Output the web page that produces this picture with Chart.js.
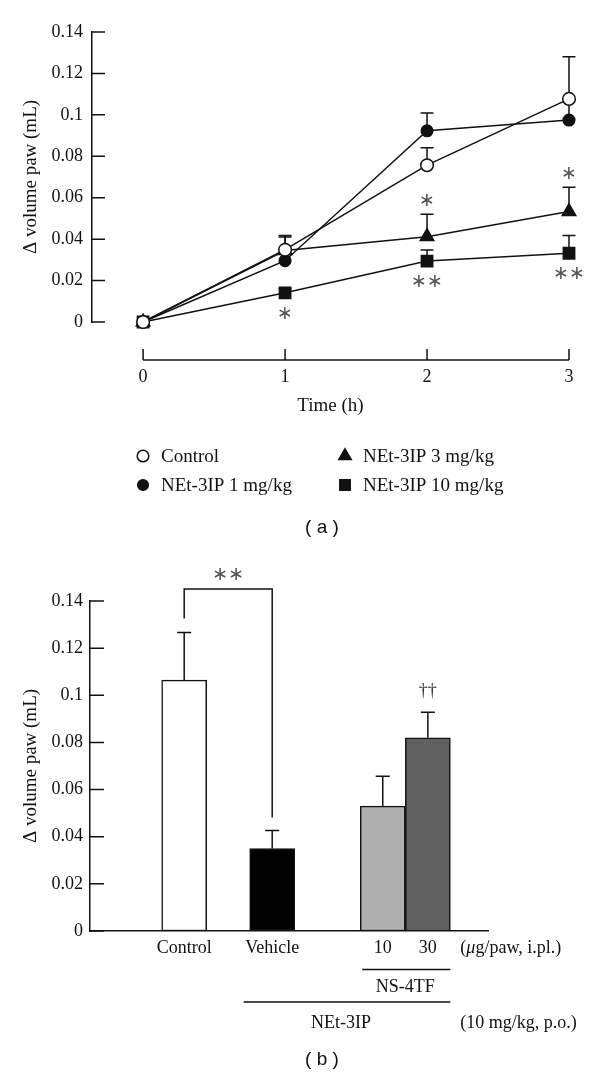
<!DOCTYPE html>
<html>
<head>
<meta charset="utf-8">
<title>Paw volume</title>
<script src="https://cdn.jsdelivr.net/npm/chart.js@4.4.0/dist/chart.umd.min.js"></script>
<style>
  body { margin: 0; background: #fff; }
  canvas { display: block; }
</style>
</head>
<body>
<canvas id="timeCourse" width="600" height="550"></canvas>
<canvas id="antagonist" width="600" height="534"></canvas>
<script>
// (a) time course
const times = [0, 1, 2, 3];
const volumeTicks = [0, 0.02, 0.04, 0.06, 0.08, 0.1, 0.12, 0.14];
const controlMean = [0, 0.0349, 0.0757, 0.1077];
const controlErr  = [0, 0.0069, 0.0084, 0.0204];
const net1Mean = [0, 0.0296, 0.0923, 0.0975];
const net1Err  = [0, 0.0052, 0.0086, 0.0102];
const net3Mean = [0, 0.0345, 0.0412, 0.0533];
const net3Err  = [0, 0.0065, 0.0108, 0.0117];
const net10Mean = [0, 0.0141, 0.0294, 0.0332];
const net10Err  = [0, 0.002, 0.0054, 0.0085];
const net3Marks  = ['', '', '*', '*'];
const net10Marks = ['', '*', '**', '**'];

// (b) NS-4TF against NEt-3IP
const groupLabels = ['Control', 'Vehicle', '10', '30'];
const barMeans = [0.1064, 0.0350, 0.0530, 0.0820];
const barErrs  = [0.0202, 0.0076, 0.0126, 0.0108];
const barMarks = ['', '', '', '††'];

const INK = '#111';
const SERIF = '"Liberation Serif", "DejaVu Serif", serif';
Chart.defaults.font.family = SERIF;
Chart.defaults.color = INK;

// where the bars sit on the (hidden) x axis of panel b
const barSlots = [2.13, 4.12, 6.62, 7.64];

function starText(s) {
  return s.replace(/\*/g, '\u2217');
}

function drawStars(ctx, text, x, y) {
  ctx.save();
  ctx.font = '19px "DejaVu Sans"';
  ctx.fillStyle = '#555';
  ctx.textAlign = 'center';
  ctx.textBaseline = 'middle';
  ctx.fillText(starText(text), x, y);
  ctx.restore();
}

function drawErrorBars(chart, capHalf) {
  const ctx = chart.ctx;
  const ys = chart.scales.y;
  ctx.save();
  ctx.strokeStyle = INK;
  ctx.lineWidth = 1.5;
  chart.data.datasets.forEach((ds, i) => {
    const meta = chart.getDatasetMeta(i);
    ds.errors.forEach((e, j) => {
      if (!e) return;
      const el = meta.data[j];
      const top = ys.getPixelForValue(ds.data[j].y + e);
      ctx.beginPath();
      ctx.moveTo(el.x, el.y);
      ctx.lineTo(el.x, top);
      ctx.moveTo(el.x - capHalf, top);
      ctx.lineTo(el.x + capHalf, top);
      ctx.stroke();
    });
  });
  ctx.restore();
}

function drawInnerTicks(chart, len) {
  const ctx = chart.ctx;
  const ys = chart.scales.y;
  const left = chart.chartArea.left;
  ctx.save();
  ctx.strokeStyle = INK;
  ctx.lineWidth = 1.5;
  ctx.beginPath();
  ys.ticks.forEach(t => {
    const py = ys.getPixelForValue(t.value);
    ctx.moveTo(left, py);
    ctx.lineTo(left + len, py);
  });
  ctx.stroke();
  ctx.restore();
}

function caption(ctx, text, x, y) {
  ctx.save();
  ctx.font = '19px "Liberation Sans", Arial, sans-serif';
  ctx.fillStyle = INK;
  ctx.textAlign = 'center';
  ctx.textBaseline = 'middle';
  ctx.fillText(text, x, y);
  ctx.restore();
}

function lineSet(label, means, errs, marks, style) {
  return Object.assign({
    label: label,
    errors: errs,
    marks: marks,
    data: times.map((t, i) => ({ x: t, y: means[i] })),
    borderColor: INK,
    borderWidth: 1.5,
    pointBorderColor: INK,
    pointBorderWidth: 1.5,
    tension: 0,
    clip: false
  }, style);
}

const timePlugin = {
  id: 'timeExtras',
  beforeDatasetsDraw(chart) {
    drawErrorBars(chart, 6.5);
  },
  afterDraw(chart) {
    const ctx = chart.ctx;
    const xs = chart.scales.x;
    const ys = chart.scales.y;
    const area = chart.chartArea;
    drawInnerTicks(chart, 13);

    // detached time axis
    const axisY = area.bottom + 38;
    ctx.save();
    ctx.strokeStyle = INK;
    ctx.lineWidth = 1.5;
    ctx.beginPath();
    ctx.moveTo(xs.getPixelForValue(times[0]), axisY);
    ctx.lineTo(xs.getPixelForValue(times[times.length - 1]), axisY);
    times.forEach(t => {
      const px = xs.getPixelForValue(t);
      ctx.moveTo(px, axisY);
      ctx.lineTo(px, axisY - 11);
    });
    ctx.stroke();
    ctx.restore();

    // significance marks
    const ds3 = chart.data.datasets[2];
    const meta3 = chart.getDatasetMeta(2);
    ds3.marks.forEach((m, j) => {
      if (!m) return;
      const top = ys.getPixelForValue(ds3.data[j].y + ds3.errors[j]);
      drawStars(ctx, m, meta3.data[j].x, top - 13);
    });
    const ds10 = chart.data.datasets[3];
    const meta10 = chart.getDatasetMeta(3);
    ds10.marks.forEach((m, j) => {
      if (!m) return;
      drawStars(ctx, m, meta10.data[j].x, meta10.data[j].y + 21);
    });

    // legend in two columns
    const rowY = [456, 485];
    const colX = [143, 345];
    chart.data.datasets.forEach((ds, i) => {
      const x = colX[Math.floor(i / 2)];
      const y = rowY[i % 2];
      ctx.save();
      ctx.fillStyle = ds.pointBackgroundColor;
      ctx.strokeStyle = INK;
      ctx.lineWidth = 1.5;
      Chart.helpers.drawPoint(ctx, {
        pointStyle: ds.pointStyle,
        radius: ds.pointRadius * 0.92,
        rotation: 0,
        borderWidth: 1.5
      }, x, y);
      ctx.font = '19px ' + SERIF;
      ctx.fillStyle = INK;
      ctx.textAlign = 'left';
      ctx.textBaseline = 'middle';
      ctx.fillText(ds.label, x + 18, y + 1);
      ctx.restore();
    });

    caption(ctx, '( a )', 322, 528);
  }
};

new Chart(document.getElementById('timeCourse'), {
  type: 'line',
  data: {
    datasets: [
      lineSet('Control', controlMean, controlErr, null,
        { pointStyle: 'circle', pointRadius: 6.3, pointBackgroundColor: '#fff' }),
      lineSet('NEt-3IP 1 mg/kg', net1Mean, net1Err, null,
        { pointStyle: 'circle', pointRadius: 5.8, pointBackgroundColor: INK }),
      lineSet('NEt-3IP 3 mg/kg', net3Mean, net3Err, net3Marks,
        { pointStyle: 'triangle', pointRadius: 7.8, pointBackgroundColor: INK }),
      lineSet('NEt-3IP 10 mg/kg', net10Mean, net10Err, net10Marks,
        { pointStyle: 'rect', pointRadius: 8, pointBackgroundColor: INK })
    ]
  },
  options: {
    responsive: false,
    animation: false,
    layout: { padding: { left: 16, right: 31, top: 32, bottom: 129 } },
    plugins: { legend: { display: false }, tooltip: { enabled: false } },
    scales: {
      x: {
        type: 'linear',
        min: -0.36,
        max: 3,
        afterBuildTicks: s => { s.ticks = times.map(v => ({ value: v })); },
        afterFit: s => { s.height = 99; },
        // hidden grid, but its tick length pushes the labels down below the drawn axis
        grid: { display: false, drawTicks: true, tickLength: 44 },
        border: { display: false },
        ticks: { padding: 0, color: INK, font: { size: 18 }, callback: v => String(v) },
        title: { display: true, text: 'Time (h)', color: INK, font: { size: 19 }, padding: { top: 0, bottom: 4 } }
      },
      y: {
        min: 0,
        max: 0.14,
        afterBuildTicks: s => { s.ticks = volumeTicks.map(v => ({ value: v })); },
        afterFit: s => { s.width = 76; },
        grid: { display: false, drawTicks: false },
        border: { display: true, color: INK, width: 1.5 },
        ticks: { padding: 9, color: INK, font: { size: 18 }, callback: v => String(v) },
        title: { display: true, text: '\u0394 volume paw (mL)', color: INK, font: { size: 19 }, padding: { top: 4, bottom: 0 } }
      }
    }
  },
  plugins: [timePlugin]
});

const barPlugin = {
  id: 'barExtras',
  afterDatasetsDraw(chart) {
    drawErrorBars(chart, 7);
  },
  afterDraw(chart) {
    const ctx = chart.ctx;
    const ys = chart.scales.y;
    const area = chart.chartArea;
    const ds = chart.data.datasets[0];
    const bars = chart.getDatasetMeta(0).data;
    const errTop = j => ys.getPixelForValue(ds.data[j].y + ds.errors[j]);
    const left = j => bars[j].x - bars[j].width / 2;
    const right = j => bars[j].x + bars[j].width / 2;
    drawInnerTicks(chart, 14);

    // Control vs Vehicle bracket
    const bracketY = area.top - 12;
    ctx.save();
    ctx.strokeStyle = INK;
    ctx.lineWidth = 1.5;
    ctx.beginPath();
    ctx.moveTo(bars[0].x, errTop(0) - 14);
    ctx.lineTo(bars[0].x, bracketY);
    ctx.lineTo(bars[1].x, bracketY);
    ctx.lineTo(bars[1].x, errTop(1) - 13);
    ctx.stroke();
    ctx.restore();
    drawStars(ctx, '**', (bars[0].x + bars[1].x) / 2, bracketY - 14);

    barMarks.forEach((m, j) => {
      if (!m) return;
      ctx.save();
      ctx.font = '18px ' + SERIF;
      ctx.fillStyle = '#333';
      ctx.textAlign = 'center';
      ctx.textBaseline = 'middle';
      ctx.fillText(m, bars[j].x, errTop(j) - 21);
      ctx.restore();
    });

    // group labels under the axis
    const labelY = area.bottom + 17;
    ctx.save();
    ctx.font = '18px ' + SERIF;
    ctx.fillStyle = INK;
    ctx.textBaseline = 'middle';
    ctx.textAlign = 'center';
    groupLabels.forEach((g, j) => ctx.fillText(g, bars[j].x, labelY));

    const noteX = right(3) + 10;
    ctx.textAlign = 'left';
    ctx.fillText('(', noteX, labelY);
    let nx = noteX + ctx.measureText('(').width;
    ctx.font = 'italic 18px ' + SERIF;
    ctx.fillText('\u03bc', nx, labelY);
    nx += ctx.measureText('\u03bc').width;
    ctx.font = '18px ' + SERIF;
    ctx.fillText('g/paw, i.pl.)', nx, labelY);

    const shortY = area.bottom + 38.5;
    const longY = area.bottom + 71;
    ctx.strokeStyle = INK;
    ctx.lineWidth = 1.5;
    ctx.beginPath();
    ctx.moveTo(left(2) + 2, shortY);
    ctx.lineTo(right(3), shortY);
    ctx.moveTo(left(1) - 6, longY);
    ctx.lineTo(right(3), longY);
    ctx.stroke();

    ctx.textAlign = 'center';
    ctx.fillText('NS-4TF', (left(2) + right(3)) / 2, area.bottom + 56);
    ctx.fillText('NEt-3IP', (left(1) - 6 + right(3)) / 2 - 6, area.bottom + 92);
    ctx.textAlign = 'left';
    ctx.fillText('(10 mg/kg, p.o.)', noteX, area.bottom + 92);
    ctx.restore();

    caption(ctx, '( b )', 322, 510);
  }
};

new Chart(document.getElementById('antagonist'), {
  type: 'bar',
  data: {
    datasets: [{
      label: 'paw volume',
      errors: barErrs,
      data: barSlots.map((x, i) => ({ x: x, y: barMeans[i] })),
      backgroundColor: ['#ffffff', '#000000', '#b0b0b0', '#606060'],
      borderColor: INK,
      borderWidth: 1.5,
      borderSkipped: false,
      barThickness: 45
    }]
  },
  options: {
    responsive: false,
    animation: false,
    layout: { padding: { left: 16, right: 112, top: 51, bottom: 153 } },
    plugins: { legend: { display: false }, tooltip: { enabled: false } },
    scales: {
      x: {
        type: 'linear',
        min: 0,
        max: 9,
        offset: false,
        afterFit: s => { s.height = 0; },
        grid: { display: false, drawTicks: false, offset: false },
        ticks: { display: false },
        border: { display: true, color: INK, width: 1.5 }
      },
      y: {
        min: 0,
        max: 0.14,
        afterBuildTicks: s => { s.ticks = volumeTicks.map(v => ({ value: v })); },
        afterFit: s => { s.width = 74; },
        grid: { display: false, drawTicks: false },
        border: { display: true, color: INK, width: 1.5 },
        ticks: { padding: 7, color: INK, font: { size: 18 }, callback: v => String(v) },
        title: { display: true, text: '\u0394 volume paw (mL)', color: INK, font: { size: 19 }, padding: { top: 4, bottom: 0 } }
      }
    }
  },
  plugins: [barPlugin]
});
</script>
</body>
</html>
